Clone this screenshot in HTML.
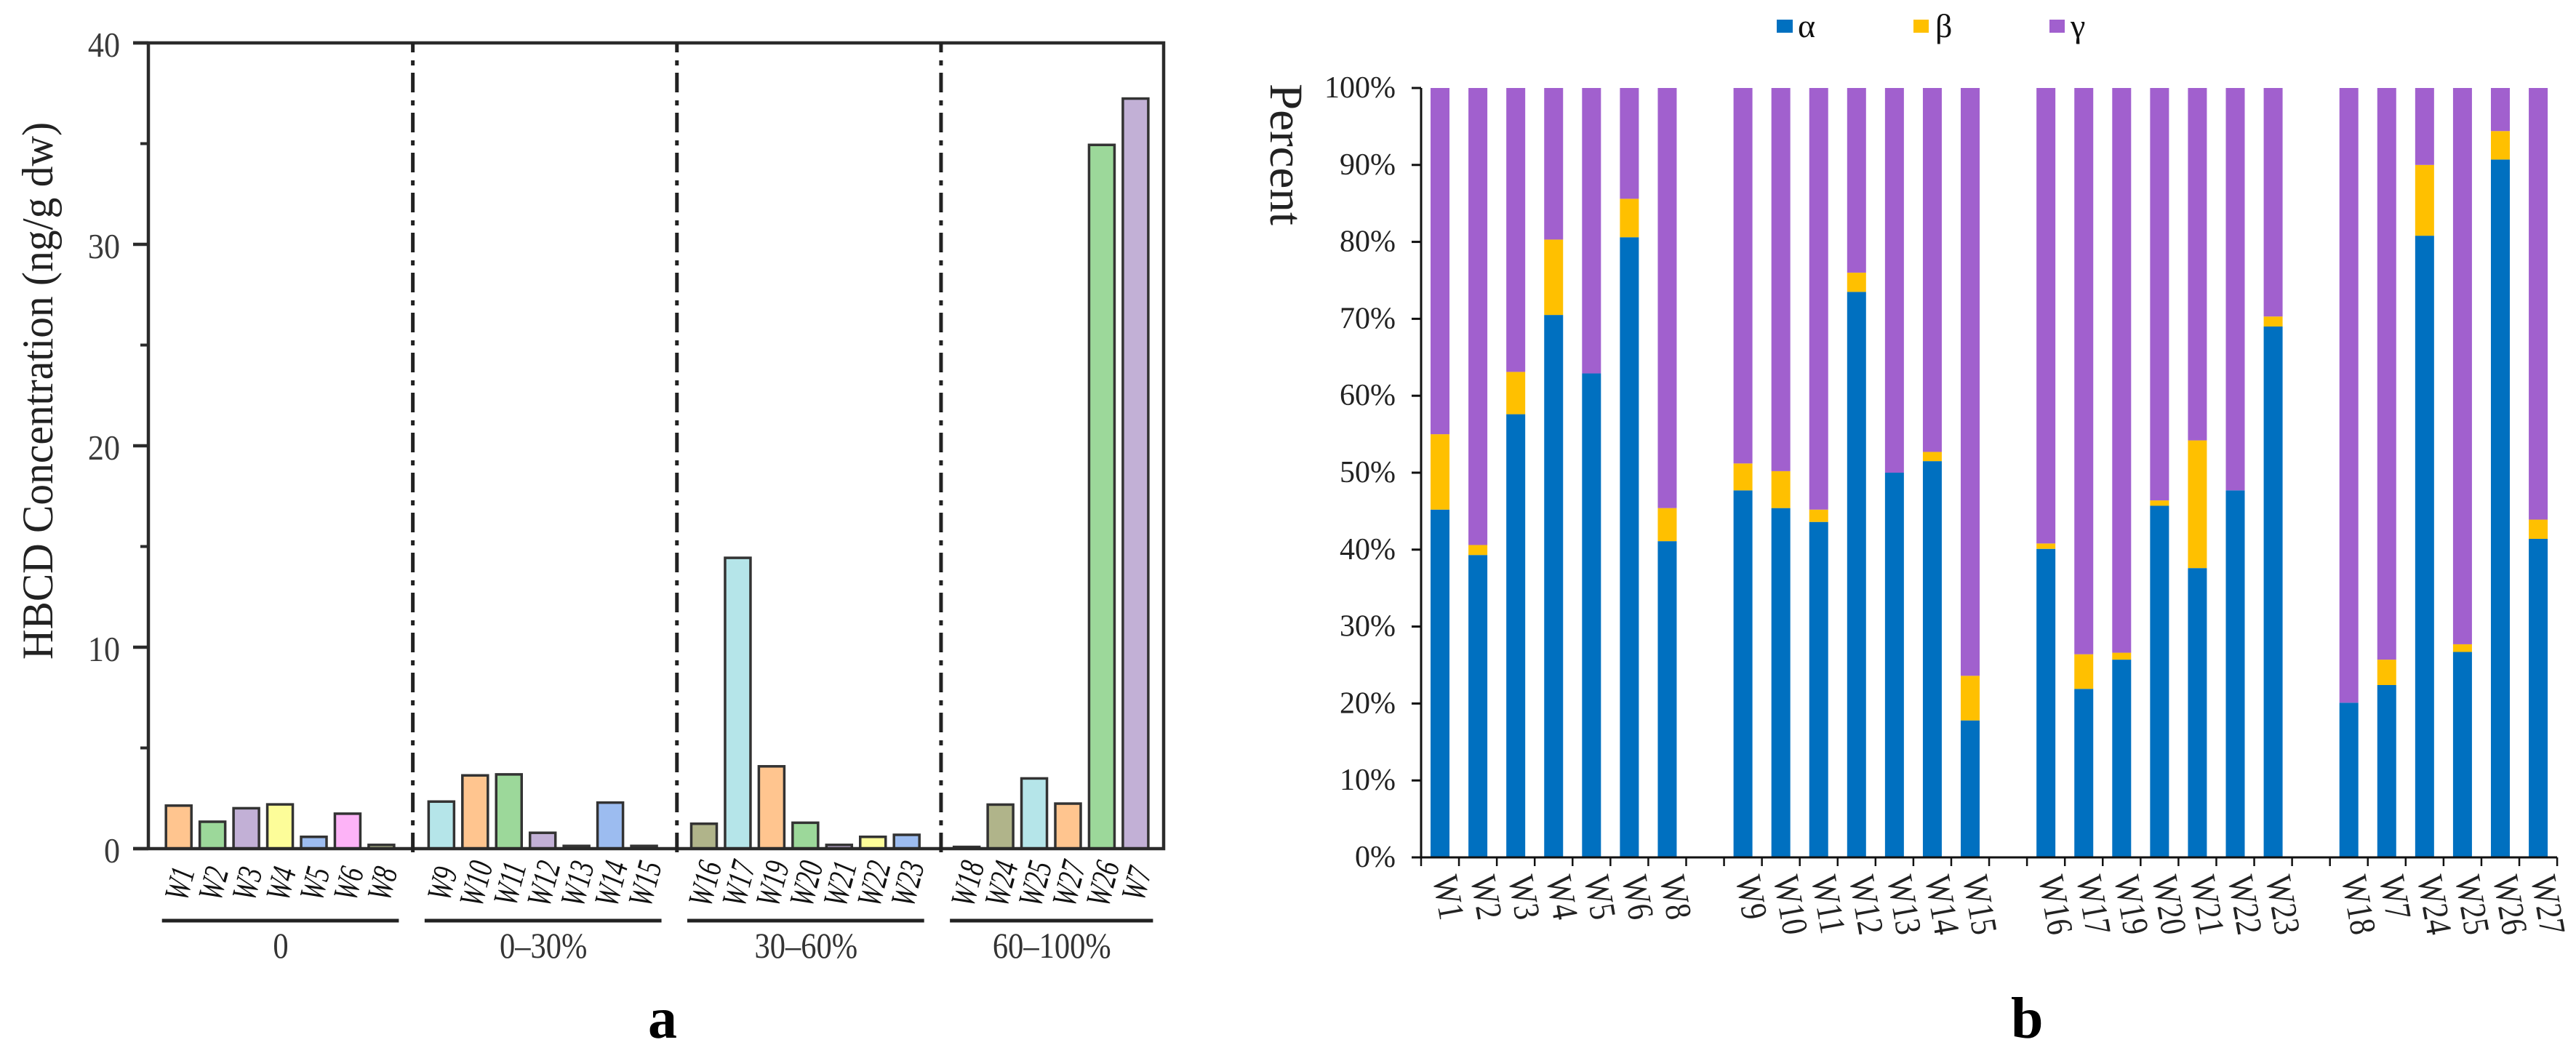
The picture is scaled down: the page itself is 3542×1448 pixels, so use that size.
<!DOCTYPE html>
<html lang="en">
<head>
<meta charset="utf-8">
<title>HBCD concentration and diastereomer percentages</title>
<style>
html,body{margin:0;padding:0;background:#fff}
svg{display:block}
text{font-family:"Liberation Serif",serif}
</style>
</head>
<body>
<svg id="figure" xmlns="http://www.w3.org/2000/svg" width="3542" height="1448" viewBox="0 0 3542 1448">
  <rect x="0" y="0" width="3542" height="1448" fill="#fff"/>
  <g id="chart-a"></g>
  <g id="chart-b"></g>
  <text transform="translate(72,907) rotate(-90) scale(.958,1)" font-size="60" fill="#222">HBCD Concentration (ng/g dw)</text>
  <text transform="translate(1747,115) rotate(90)" font-size="65" fill="#222">Percent</text>
  <text x="891" y="1427" font-size="80" font-weight="bold" fill="#000">a</text>
  <text x="2765" y="1427" font-size="80" font-weight="bold" fill="#000">b</text>
  <g>
    <rect x="2443" y="27" width="22" height="18" fill="#0070C0"/>
    <text x="2472" y="51" font-size="46" fill="#111">α</text>
    <rect x="2631" y="27" width="21" height="18" fill="#FFC000"/>
    <text x="2661" y="51" font-size="46" fill="#111">β</text>
    <rect x="2818" y="27" width="21" height="18" fill="#A160CE"/>
    <text x="2847" y="51" font-size="46" fill="#111">γ</text>
  </g>
</svg>
<script>
const leftCategories = ['W1','W2','W3','W4','W5','W6','W8','W9','W10','W11','W12','W13','W14','W15','W16','W17','W19','W20','W21','W22','W23','W18','W24','W25','W27','W26','W7'];
const leftValues = [2.2,1.4,2.07,2.26,0.65,1.8,0.25,2.4,3.7,3.75,0.85,0.2,2.35,0.2,1.3,14.5,4.15,1.35,0.25,0.65,0.75,0.15,2.25,3.55,2.3,35.0,37.3];
const leftGroupNames = ['0','0–30%','30–60%','60–100%'];
const leftGroupSizes = [7,7,7,6];
const leftMajorTicks = [0,10,20,30,40];
const leftMinorTicks = [5,15,25,35];
const leftPalette = ['#FFC58F','#9CD89A','#C2B0D6','#FDFD99','#9CBCF0','#FDB3F7','#B0B48A','#B5E5E9'];

const rightCategories = ['W1','W2','W3','W4','W5','W6','W8','W9','W10','W11','W12','W13','W14','W15','W16','W17','W19','W20','W21','W22','W23','W18','W7','W24','W25','W26','W27'];
const alphaValues = [45.2,39.3,57.6,70.5,62.9,80.6,41.1,47.7,45.4,43.6,73.5,50.0,51.5,17.8,40.1,21.9,25.7,45.7,37.6,47.7,69.0,20.1,22.4,80.8,26.7,90.7,41.4];
const betaValues = [9.8,1.3,5.5,9.8,0,5.0,4.3,3.5,4.8,1.6,2.5,0,1.2,5.8,0.7,4.5,0.9,0.7,16.6,0,1.3,0,3.3,9.2,1.0,3.7,2.5];
const gammaValues = [45,59.4,36.9,19.7,37.1,14.4,54.6,48.8,49.8,54.8,24,50,47.3,76.4,59.2,73.6,73.4,53.6,45.8,52.3,29.7,79.9,74.3,10,72.3,5.6,56.1];
const rightGroupSizes = [7,7,7,6];
const rightTicks = [0,10,20,30,40,50,60,70,80,90,100];

const NS = 'http://www.w3.org/2000/svg';
function make(parent, tag, attrs, content) {
  const el = document.createElementNS(NS, tag);
  for (const k in attrs) el.setAttribute(k, attrs[k]);
  if (content !== undefined) el.textContent = content;
  parent.appendChild(el);
  return el;
}
function groupIndex(sizes, i) {
  let sum = 0;
  for (let g = 0; g < sizes.length; g++) {
    sum += sizes[g];
    if (i < sum) return g;
  }
  return sizes.length - 1;
}

/* ---------- panel a ---------- */
const a = document.getElementById('chart-a');
const AXIS = '#2b2b2b';
const aLeft = 204, aRight = 1600, aBottom = 1167, aTop = 59;
const yA = v => aBottom - (aBottom - aTop) * v / 40;
const xA = i => 245.7 + 46.45 * (i + 0.775 * groupIndex(leftGroupSizes, i));

leftCategories.forEach((name, i) => {
  const top = yA(leftValues[i]);
  const c = xA(i);
  const bar = make(a, 'rect', {
    x: c - 17.5, y: top + 1.75, width: 35,
    height: Math.max(aBottom - top - 1.75, 0.5),
    fill: leftPalette[i % leftPalette.length], stroke: '#333', 'stroke-width': 3.5
  });
  
  
  const label = make(a, 'text', {
    transform: 'translate(' + (c + 1) + ',1215) rotate(-75) scale(1,1.4)',
    'font-size': 34, 'font-style': 'italic', 'text-anchor': 'middle',
    'dominant-baseline': 'central', fill: '#111'
  }, name);
  
  
});

const frame = make(a, 'path', {
  d: 'M183 ' + aTop + 'H' + aRight + 'V' + aBottom + 'H183M' + aLeft + ' ' + aTop + 'V' + aBottom,
  fill: 'none', stroke: AXIS, 'stroke-width': 4.5
});



leftMajorTicks.forEach(v => {
  const t = make(a, 'line', { x1: 183, x2: aLeft, y1: yA(v), y2: yA(v), stroke: AXIS, 'stroke-width': 4.5 });
  
  
  const l = make(a, 'text', {
    transform: 'translate(165,' + (yA(v) + 19) + ') scale(.9,1)',
    'font-size': 49, 'text-anchor': 'end', fill: '#3a3a3a'
  }, String(v));
  
  
});
leftMinorTicks.forEach(v => {
  const t = make(a, 'line', { x1: 193, x2: aLeft, y1: yA(v), y2: yA(v), stroke: AXIS, 'stroke-width': 4 });
  
  
});

let aStart = 0;
leftGroupSizes.forEach((size, g) => {
  const first = xA(aStart), last = xA(aStart + size - 1);
  const rule = make(a, 'line', { x1: first - 23, x2: last + 24, y1: 1266, y2: 1266, stroke: '#222', 'stroke-width': 5 });
  
  
  const lab = make(a, 'text', {
    transform: 'translate(' + ((first + last) / 2 + 1) + ',1317) scale(.85,1)',
    'font-size': 50, 'text-anchor': 'middle', fill: '#333'
  }, leftGroupNames[g]);
  
  
  if (g > 0) {
    const sep = (xA(aStart - 1) + first) / 2 + 2 * g;
    const divider = make(a, 'line', {
      x1: sep, x2: sep, y1: 1172, y2: aTop, stroke: '#222', 'stroke-width': 5,
      'stroke-dasharray': '27 10 7 11'
    });
    
    
  }
  aStart += size;
});

/* ---------- panel b ---------- */
const b = document.getElementById('chart-b');
const bLeft = 1954, bBottom = 1179, bTop = 121, slot = 52.07, bSlots = 30;
const yB = v => bBottom - (bBottom - bTop) * v / 100;
const xB = i => bLeft + slot * (i + groupIndex(rightGroupSizes, i) + 0.5);
const seriesColors = ['#0070C0', '#FFC000', '#A160CE'];
const seriesNames = ['alpha', 'beta', 'gamma'];
const seriesValues = [alphaValues, betaValues, gammaValues];

rightCategories.forEach((name, i) => {
  const c = xB(i);
  let base = 0;
  seriesValues.forEach((vals, s) => {
    const v = vals[i];
    if (v > 0) {
      const seg = make(b, 'rect', {
        x: c - 13, y: yB(base + v), width: 26, height: yB(base) - yB(base + v),
        fill: seriesColors[s]
      });
      
      
    }
    base += v;
  });
  const label = make(b, 'text', {
    transform: 'translate(' + (c - 10) + ',1207) rotate(80) scale(1,1.2)',
    'font-size': 42, fill: '#222'
  }, name);
  
  
});

const bAxes = make(b, 'path', {
  d: 'M' + bLeft + ' ' + bTop + 'V' + bBottom + 'H' + (bLeft + slot * bSlots),
  fill: 'none', stroke: '#111', 'stroke-width': 3
});



rightTicks.forEach(v => {
  const t = make(b, 'line', { x1: 1941, x2: bLeft, y1: yB(v), y2: yB(v), stroke: '#111', 'stroke-width': 3 });
  
  
  const l = make(b, 'text', {
    x: 1919, y: yB(v) + 13, 'font-size': 42, 'text-anchor': 'end', fill: '#222'
  }, v + '%');
  
  
});
for (let k = 0; k <= bSlots; k++) {
  const px = bLeft + slot * k;
  const t = make(b, 'line', { x1: px, x2: px, y1: bBottom, y2: bBottom + 12, stroke: '#111', 'stroke-width': 2.5 });
  
  
}
</script>
</body>
</html>
